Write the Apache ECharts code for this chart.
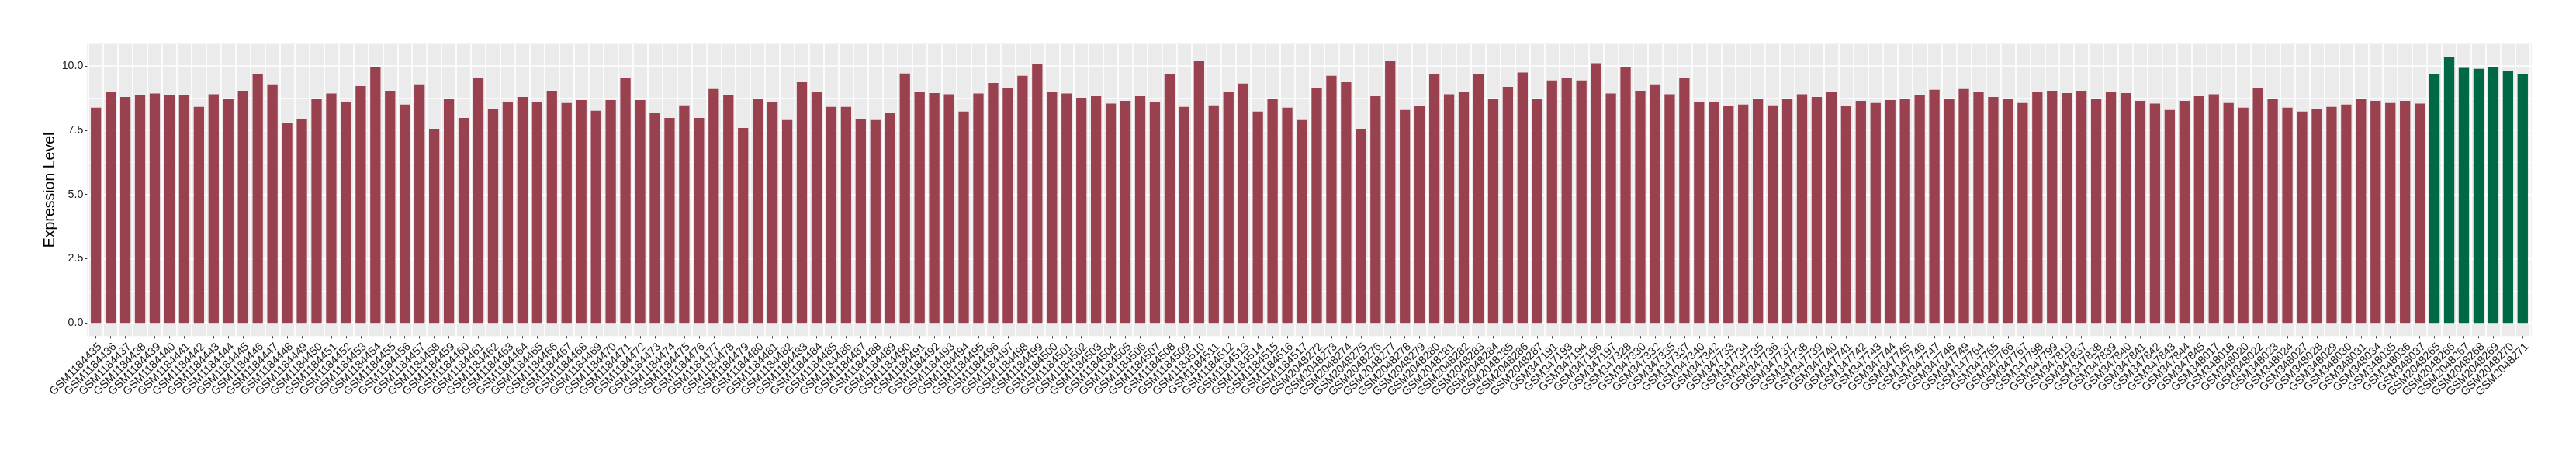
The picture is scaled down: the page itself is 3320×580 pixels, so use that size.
<!DOCTYPE html>
<html>
<head>
<meta charset="utf-8">
<title>Expression Level</title>
<script src="https://cdn.jsdelivr.net/npm/echarts@6/dist/echarts.min.js"></script>
<style>
  html, body { margin: 0; padding: 0; background: #fff; }
  #chart { width: 3320px; height: 580px; }
</style>
</head>
<body>
<div id="chart"></div>
<script>
// sample ids (x axis)
const samples = [
  'GSM1184435','GSM1184436','GSM1184437','GSM1184438','GSM1184439','GSM1184440','GSM1184441','GSM1184442','GSM1184443','GSM1184444',
  'GSM1184445','GSM1184446','GSM1184447','GSM1184448','GSM1184449','GSM1184450','GSM1184451','GSM1184452','GSM1184453','GSM1184454',
  'GSM1184455','GSM1184456','GSM1184457','GSM1184458','GSM1184459','GSM1184460','GSM1184461','GSM1184462','GSM1184463','GSM1184464',
  'GSM1184465','GSM1184466','GSM1184467','GSM1184468','GSM1184469','GSM1184470','GSM1184471','GSM1184472','GSM1184473','GSM1184474',
  'GSM1184475','GSM1184476','GSM1184477','GSM1184478','GSM1184479','GSM1184480','GSM1184481','GSM1184482','GSM1184483','GSM1184484',
  'GSM1184485','GSM1184486','GSM1184487','GSM1184488','GSM1184489','GSM1184490','GSM1184491','GSM1184492','GSM1184493','GSM1184494',
  'GSM1184495','GSM1184496','GSM1184497','GSM1184498','GSM1184499','GSM1184500','GSM1184501','GSM1184502','GSM1184503','GSM1184504',
  'GSM1184505','GSM1184506','GSM1184507','GSM1184508','GSM1184509','GSM1184510','GSM1184511','GSM1184512','GSM1184513','GSM1184514',
  'GSM1184515','GSM1184516','GSM1184517',
  'GSM2048272','GSM2048273','GSM2048274','GSM2048275','GSM2048276','GSM2048277','GSM2048278','GSM2048279','GSM2048280','GSM2048281',
  'GSM2048282','GSM2048283','GSM2048284','GSM2048285','GSM2048286','GSM2048287',
  'GSM347191','GSM347193','GSM347194','GSM347196','GSM347197','GSM347328','GSM347330','GSM347332','GSM347335','GSM347337',
  'GSM347340','GSM347342',
  'GSM347733','GSM347734','GSM347735','GSM347736','GSM347737','GSM347738','GSM347739','GSM347740','GSM347741','GSM347742',
  'GSM347743','GSM347744','GSM347745','GSM347746','GSM347747','GSM347748','GSM347749',
  'GSM347764','GSM347765','GSM347766','GSM347767','GSM347798','GSM347799','GSM347819',
  'GSM347837','GSM347838','GSM347839','GSM347840','GSM347841','GSM347842','GSM347843','GSM347844','GSM347845',
  'GSM348017','GSM348018','GSM348020','GSM348022','GSM348023','GSM348024','GSM348027','GSM348028','GSM348029','GSM348030',
  'GSM348031','GSM348034','GSM348035','GSM348036','GSM348037',
  'GSM2048265','GSM2048266','GSM2048267','GSM2048268','GSM2048269','GSM2048270','GSM2048271'
];

// expression level per sample
const expression = [
  8.38, 8.98, 8.80, 8.86, 8.93, 8.86, 8.86, 8.41, 8.90, 8.72,
  9.04, 9.68, 9.29, 7.77, 7.95, 8.74, 8.93, 8.62, 9.22, 9.95,
  9.04, 8.50, 9.29, 7.56, 8.74, 7.98, 9.53, 8.32, 8.59, 8.80,
  8.62, 9.04, 8.56, 8.68, 8.26, 8.68, 9.55, 8.68, 8.16, 7.98,
  8.47, 7.98, 9.11, 8.86, 7.59, 8.72, 8.59, 7.90, 9.37, 9.01,
  8.41, 8.41, 7.95, 7.90, 8.16, 9.71, 9.01, 8.95, 8.90, 8.23,
  8.93, 9.34, 9.14, 9.62, 10.07, 8.98, 8.93, 8.77, 8.83, 8.54,
  8.65, 8.83, 8.59, 9.68, 8.41, 10.19, 8.47, 8.98, 9.32, 8.23,
  8.72, 8.38, 7.90,
  9.16, 9.62, 9.37, 7.56, 8.83, 10.19, 8.29, 8.44, 9.68, 8.90,
  8.98, 9.68, 8.74, 9.19, 9.75, 8.72,
  9.44, 9.55, 9.44, 10.11, 8.93, 9.95, 9.04, 9.29, 8.90, 9.53,
  8.62, 8.59,
  8.44, 8.50, 8.74, 8.47, 8.72, 8.90, 8.80, 8.98, 8.44, 8.65,
  8.56, 8.68, 8.72, 8.86, 9.08, 8.74, 9.11,
  8.98, 8.80, 8.74, 8.56, 8.98, 9.04, 8.95,
  9.04, 8.72, 9.01, 8.95, 8.65, 8.54, 8.29, 8.65, 8.83,
  8.90, 8.56, 8.38, 9.16, 8.74, 8.38, 8.23, 8.32, 8.41, 8.50,
  8.72, 8.65, 8.56, 8.65, 8.54,
  9.68, 10.35, 9.93, 9.89, 9.95, 9.80, 9.68
];

// samples drawn in green
const highlighted = ['GSM2048265','GSM2048266','GSM2048267','GSM2048268','GSM2048269','GSM2048270','GSM2048271'];

const yTicks = [0, 2.5, 5, 7.5, 10];

const barRed = '#9A4150';
const barGreen = '#006845';
const font = 'Liberation Sans, Arial, Helvetica, sans-serif';

// ggplot style: 5% expansion above the tallest bar and below 0
const yMax = Math.max(...expression);
const yTop = yMax * 1.05;
const yBottom = -yMax * 0.05;

const chart = echarts.init(document.getElementById('chart'));

// panel geometry
const W = 3320, H = 580;
const panelTop = 56.5, panelBottom = 433.3;
const pxPerUnit = (panelBottom - panelTop) / (yTop - yBottom);
const zeroY = panelBottom + yBottom * pxPerUnit;
const tenY = zeroY - 10 * pxPerUnit;
const panelLeft = 112.3, panelRight = 3262.7;
const band = (panelRight - panelLeft) / (samples.length + 0.2);
const innerLeft = panelLeft + 0.1 * band;
const innerRight = W - (panelRight - 0.1 * band);

chart.setOption({
  animation: false,
  backgroundColor: '#ffffff',
  textStyle: { fontFamily: font },
  grid: [
    // panel background
    { left: panelLeft, right: W - panelRight, top: panelTop, bottom: H - panelBottom,
      show: true, backgroundColor: '#EBEBEB', borderWidth: 0, z: 0 },
    // x axis + vertical grid lines
    { left: innerLeft, right: innerRight, top: panelTop, bottom: H - panelBottom, z: 1 },
    // y axis + horizontal grid lines
    { left: panelLeft, right: W - panelRight, top: tenY, bottom: H - zeroY, z: 1 },
    // bars
    { left: innerLeft, right: innerRight, top: panelTop, bottom: H - zeroY, z: 2 }
  ],
  xAxis: [
    { gridIndex: 0, type: 'value', show: false },
    {
      gridIndex: 1, type: 'category', data: samples, z: 1,
      axisLine: { show: false },
      axisTick: { show: true, alignWithLabel: true, length: 3, lineStyle: { color: '#333333', width: 1 } },
      axisLabel: {
        interval: 0, rotate: 45, margin: 6, fontSize: 14.5, color: '#1a1a1a',
        fontFamily: font, align: 'right', verticalAlign: 'top'
      },
      splitLine: { show: true, interval: 0, lineStyle: { color: '#ffffff', width: 1.6 } }
    },
    { gridIndex: 2, type: 'value', show: false },
    { gridIndex: 3, type: 'category', data: samples, show: false }
  ],
  yAxis: [
    { gridIndex: 0, type: 'value', show: false },
    {
      gridIndex: 1, type: 'value', min: 0, max: 1,
      name: 'Expression Level', nameLocation: 'middle', nameGap: 40,
      nameTextStyle: { fontSize: 19.5, color: '#000000', fontFamily: font },
      axisLine: { show: false }, axisTick: { show: false },
      axisLabel: { show: false }, splitLine: { show: false }
    },
    {
      gridIndex: 2, type: 'value', min: 0, max: 10, interval: 2.5, z: 1,
      axisLine: { show: false },
      axisTick: { show: true, length: 3, lineStyle: { color: '#333333', width: 1 } },
      axisLabel: {
        margin: 5, fontSize: 14.2, color: '#1a1a1a', fontFamily: font,
        formatter: v => yTicks.includes(v) ? v.toFixed(1) : ''
      },
      splitLine: { show: true, lineStyle: { color: '#ffffff', width: 1.6 } },
      minorTick: { show: false, splitNumber: 2 },
      minorSplitLine: { show: true, lineStyle: { color: '#ffffff', width: 0.8 } }
    },
    { gridIndex: 3, type: 'value', min: 0, max: yTop, show: false }
  ],
  series: [
    {
      type: 'bar',
      xAxisIndex: 3,
      yAxisIndex: 3,
      barWidth: '70%',
      z: 2,
      data: expression.map((v, i) => ({
        value: v,
        itemStyle: { color: highlighted.includes(samples[i]) ? barGreen : barRed }
      }))
    }
  ]
});
</script>
</body>
</html>
